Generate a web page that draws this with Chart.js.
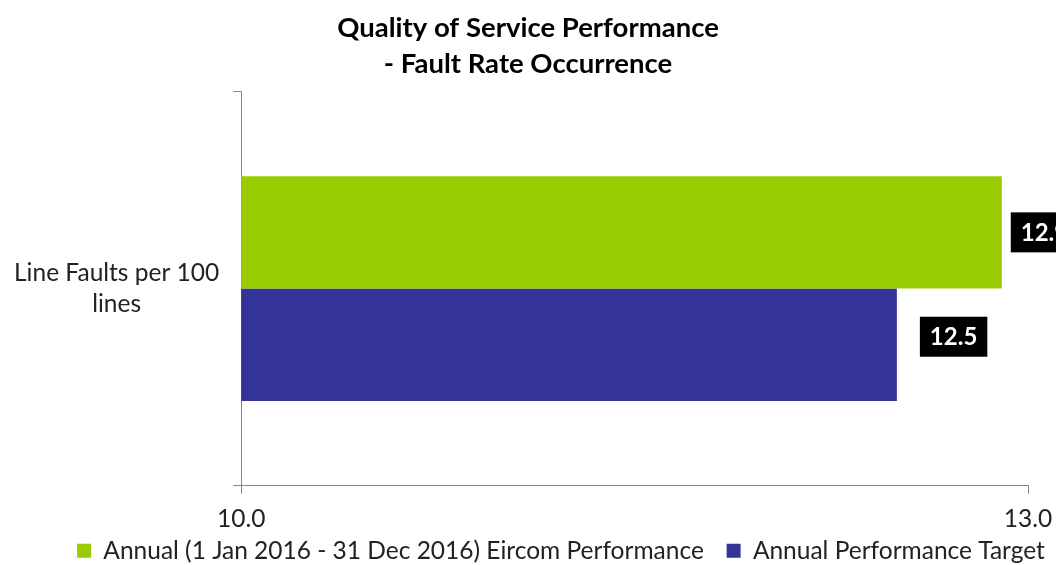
<!DOCTYPE html>
<html>
<head>
<meta charset="utf-8">
<script src="https://cdn.jsdelivr.net/npm/chart.js@4"></script>
<style>
  body { margin: 0; background: #fff; }
  #wrap { width: 1056px; height: 565px; }
</style>
</head>
<body>
<div id="wrap"><canvas id="chart"></canvas></div>
<script>
const categories = [['Line Faults per 100', 'lines']];
const seriesNames = ['Annual (1 Jan 2016 - 31 Dec 2016) Eircom Performance', 'Annual Performance Target'];
const performance = [12.9];
const target = [12.5];
const axisTicks = [10.0, 13.0];

const FONT = 'Lato, "Open Sans", sans-serif';

// black box value labels to the right of each bar
const boxLabels = {
  id: 'boxLabels',
  afterDatasetsDraw(chart) {
    const ctx = chart.ctx;
    ctx.save();
    ctx.font = 'bold 24px ' + FONT;
    ctx.textBaseline = 'middle';
    chart.data.datasets.forEach((ds, i) => {
      chart.getDatasetMeta(i).data.forEach((bar, j) => {
        const txt = ds.data[j].toFixed(1);
        const w = ctx.measureText(txt).width + 20;
        const x = bar.x + (i === 0 ? 9 : 23);
        const y = bar.y - (i === 0 ? 0 : 8);
        ctx.fillStyle = '#000';
        ctx.fillRect(x, y - 20, w, 40);
        ctx.fillStyle = '#fff';
        ctx.fillText(txt, x + 10, y + 1);
      });
    });
    ctx.restore();
  }
};

// the original legend sits a little right of centre
const legendNudge = {
  id: 'legendNudge',
  afterLayout(chart) {
    if (chart.legend) { chart.legend.left += 33; chart.legend.right += 33; }
  }
};

new Chart(document.getElementById('chart'), {
  type: 'bar',
  data: {
    labels: categories,
    datasets: [
      { label: seriesNames[0], data: performance, backgroundColor: '#99CC00' },
      { label: seriesNames[1], data: target, backgroundColor: '#333399' }
    ]
  },
  options: {
    indexAxis: 'y',
    responsive: true,
    maintainAspectRatio: false,
    animation: false,
    layout: { padding: { left: 0, right: 0, top: 2, bottom: -8 } },
    datasets: { bar: { categoryPercentage: 0.57, barPercentage: 1.0 } },
    scales: {
      x: {
        min: 10, max: 13,
        afterBuildTicks: axis => { axis.ticks = axisTicks.map(v => ({ value: v })); },
        afterFit: axis => { axis.paddingRight = 28; axis.height -= 9; },
        border: { color: '#868686', width: 1 },
        grid: { drawOnChartArea: false, drawTicks: true, tickLength: 8, color: '#868686' },
        ticks: {
          color: '#222', padding: 20,
          font: { family: FONT, size: 24.5, lineHeight: 0.4 },
          callback: v => Number(v).toFixed(1),
          maxRotation: 0
        }
      },
      y: {
        border: { color: '#868686', width: 1 },
        grid: { drawOnChartArea: false, drawTicks: true, tickLength: 8, color: '#868686', offset: true },
        ticks: {
          color: '#222', padding: 14, crossAlign: 'center',
          font: { family: FONT, size: 24.5, lineHeight: 1.3 }
        }
      }
    },
    plugins: {
      title: {
        display: true,
        text: ['Quality of Service Performance', '- Fault Rate Occurrence'],
        color: '#000',
        font: { family: FONT, size: 27.5, weight: 'bold', lineHeight: 1.28 },
        padding: { top: 9, bottom: 10 }
      },
      legend: {
        position: 'bottom',
        labels: {
          color: '#222', boxWidth: 14, boxHeight: 14, padding: 4,
          font: { family: FONT, size: 24.5 },
          // extra gap after the first entry, as in the original legend
          generateLabels: chart => Chart.defaults.plugins.legend.labels.generateLabels(chart)
            .map((item, i) => ({ ...item, text: i === 0 ? item.text + '   ' : item.text }))
        }
      },
      tooltip: { enabled: false }
    }
  },
  plugins: [boxLabels, legendNudge]
});
</script>
</body>
</html>
